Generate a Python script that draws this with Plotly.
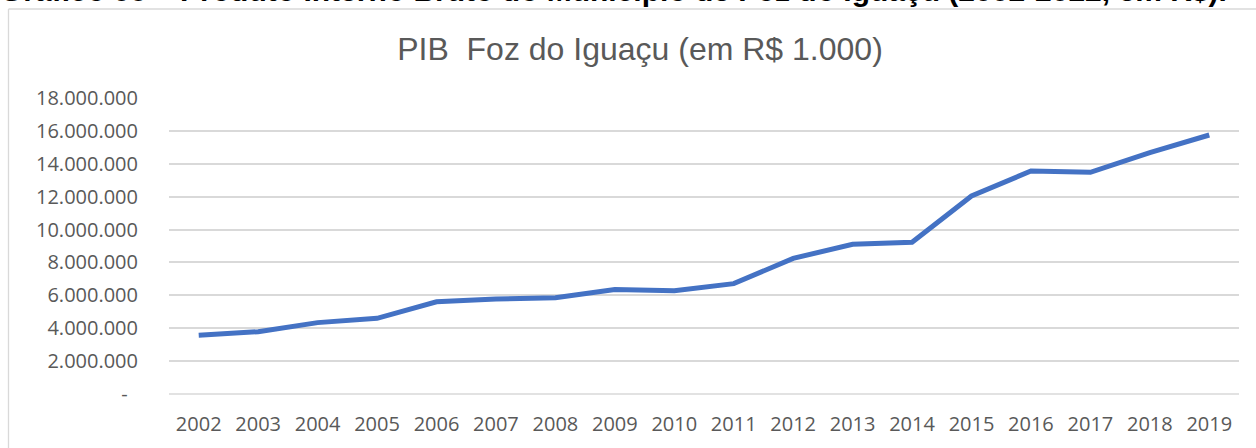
import plotly.graph_objects as go

anos = [str(a) for a in range(2002, 2020)]
pib = [3570000, 3790000, 4340000, 4600000, 5610000, 5780000, 5860000, 6350000, 6280000,
       6710000, 8250000, 9100000, 9230000, 12040000, 13560000, 13480000, 14680000, 15750000]
y_ticks = [0, 2000000, 4000000, 6000000, 8000000, 10000000, 12000000, 14000000, 16000000, 18000000]
y_labels = ["-\u00a0\u00a0", "2.000.000", "4.000.000", "6.000.000", "8.000.000", "10.000.000",
            "12.000.000", "14.000.000", "16.000.000", "18.000.000"]
titulo = "PIB  Foz do Iguaçu (em R$ 1.000)"
legenda_topo = "Gráfico 05 – Produto Interno Bruto do Município de Foz do Iguaçu (2002-2022, em R$)."

W, H = 1256, 448
L, R, T, B = 169, 17, 98, 54
pw, ph = W - L - R, H - T - B

fig = go.Figure()
fig.add_trace(go.Scatter(x=anos, y=pib, mode="lines",
                         line=dict(color="#4472C4", width=5), hoverinfo="x+y"))

def px_x(p):
    return (p - L) / pw

def px_y(p):
    return (H - B - p) / ph

fig.update_layout(
    width=W, height=H, autosize=False,
    margin=dict(l=L, r=R, t=T, b=B, pad=0, autoexpand=False),
    paper_bgcolor="white", plot_bgcolor="white",
    showlegend=False,
    title=dict(text=titulo, x=640 / W, xanchor="center", xref="container",
               y=1 - 49 / H, yanchor="middle", yref="container", automargin=False,
               font=dict(family="Liberation Sans, Arial", size=32, color="#595959")),
    xaxis=dict(type="category", range=[-0.5, 17.5], showgrid=False, zeroline=False,
               showline=False, ticks="outside", ticklen=12, tickcolor="rgba(0,0,0,0)",
               automargin=False,
               tickfont=dict(family="Open Sans", size=20, color="#595959")),
    yaxis=dict(range=[0, 18000000], tickvals=y_ticks, ticktext=y_labels,
               showgrid=True, gridcolor="#D9D9D9", gridwidth=1.5, zeroline=False,
               showline=False, ticks="outside", ticklen=26, tickcolor="rgba(0,0,0,0)",
               automargin=False,
               tickfont=dict(family="Open Sans", size=20, color="#595959")),
    shapes=[dict(type="line", xref="paper", yref="paper", x0=0, x1=1, y0=0, y1=0,
                 line=dict(color="#D9D9D9", width=1.5)),
            dict(type="line", xref="paper", yref="paper",
                 x0=px_x(8.5), x1=px_x(1300), y0=px_y(9), y1=px_y(9),
                 line=dict(color="#D9D9D9", width=1.3), layer="below"),
            dict(type="line", xref="paper", yref="paper",
                 x0=px_x(8.5), x1=px_x(8.5), y0=px_y(9), y1=px_y(500),
                 line=dict(color="#D9D9D9", width=1.3), layer="below")],
    annotations=[dict(text="<b>" + legenda_topo + "</b>", xref="paper", yref="paper",
                      x=px_x(-1), xanchor="left", y=px_y(8), yanchor="bottom",
                      showarrow=False, borderpad=0,
                      font=dict(family="Liberation Sans, Arial", size=30, color="black"))],
)

fig.write_html("out.html", config={"displayModeBar": False},
               post_script="document.body.style.margin='0';document.body.style.overflow='hidden';")
